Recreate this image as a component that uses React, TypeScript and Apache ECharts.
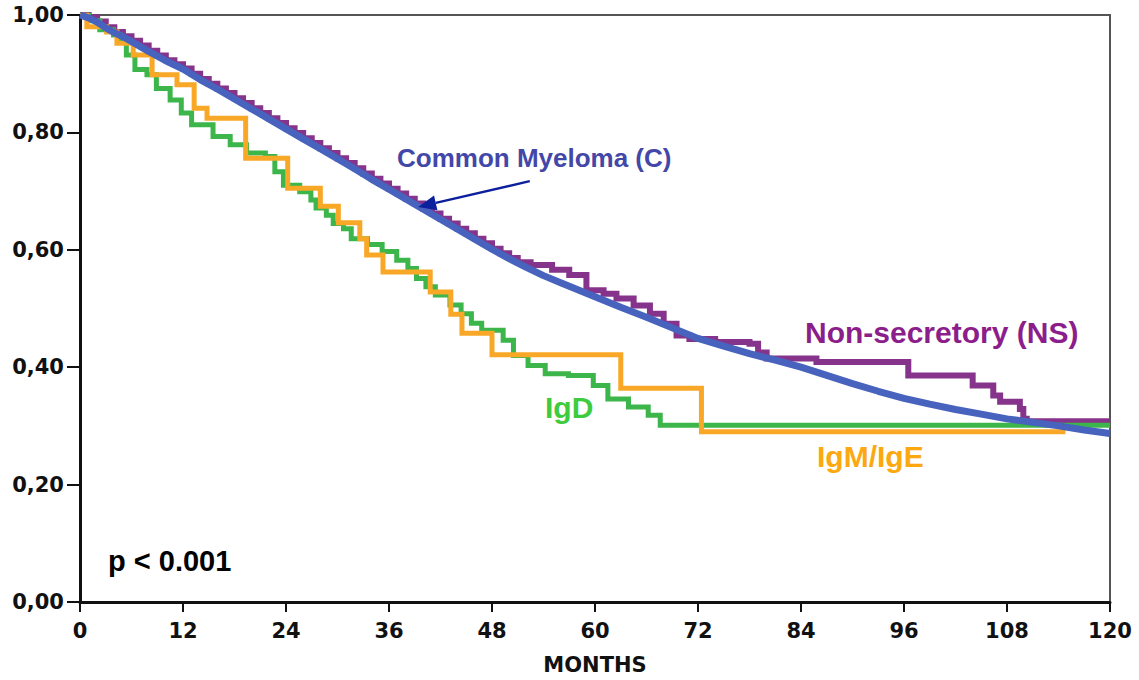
import React, { useEffect, useRef } from "react";
import * as echarts from "echarts";

// Tick labels
const xTicks = [0, 12, 24, 36, 48, 60, 72, 84, 96, 108, 120];
const yTicks = [0, 0.2, 0.4, 0.6, 0.8, 1.0];

// Common Myeloma (C): [month, survival]
const commonMyeloma: [number, number][] = [
  [0, 1.0], [1, 0.995], [2, 0.988], [3, 0.978], [4, 0.97], [5, 0.963], [6, 0.955],
  [8, 0.938], [10, 0.922], [12, 0.908], [14, 0.89], [16, 0.874], [18, 0.857],
  [20, 0.84], [22, 0.823], [24, 0.806], [26, 0.789], [28, 0.772], [30, 0.755],
  [32, 0.738], [34, 0.72], [36, 0.703], [38, 0.686], [40, 0.669], [42, 0.652],
  [44, 0.635], [46, 0.618], [48, 0.601], [50, 0.585], [52, 0.57], [54, 0.556],
  [56, 0.544], [58, 0.532], [60, 0.52], [63, 0.502], [66, 0.485], [69, 0.467],
  [72, 0.449], [75, 0.436], [78, 0.423], [81, 0.412], [84, 0.4], [87, 0.386],
  [90, 0.372], [93, 0.359], [96, 0.347], [99, 0.337], [102, 0.328], [105, 0.32],
  [108, 0.312], [111, 0.306], [114, 0.3], [117, 0.293], [120, 0.287],
];

// Non-secretory (NS): Kaplan-Meier steps [month, survival]
const nonSecretory: [number, number][] = [
  [0, 1.0], [1, 0.996], [2, 0.989], [3, 0.979], [4, 0.971], [5, 0.964], [6, 0.956],
  [7, 0.948], [8, 0.939], [9, 0.931], [10, 0.923], [11, 0.916], [12, 0.909],
  [13, 0.9], [14, 0.891], [15, 0.883], [16, 0.875], [17, 0.867], [18, 0.858],
  [19, 0.85], [20, 0.841], [21, 0.833], [22, 0.824], [23, 0.816], [24, 0.807],
  [25, 0.799], [26, 0.79], [27, 0.782], [28, 0.773], [29, 0.765], [30, 0.756],
  [31, 0.748], [32, 0.739], [33, 0.73], [34, 0.721], [35, 0.713], [36, 0.704],
  [37, 0.696], [38, 0.687], [39, 0.679], [40, 0.67], [41, 0.662], [42, 0.653],
  [43, 0.645], [44, 0.636], [45, 0.628], [46, 0.619], [47, 0.611], [48, 0.602],
  [49, 0.594], [50, 0.586], [51, 0.579], [52.5, 0.574], [55, 0.566], [57, 0.557],
  [59, 0.531], [61, 0.525], [62.5, 0.517], [64.5, 0.505], [66.4, 0.491], [68, 0.474],
  [69.5, 0.454], [71, 0.448], [74, 0.443], [78, 0.44], [79, 0.425], [80, 0.415],
  [85.8, 0.409], [96.5, 0.386], [104, 0.369], [106.4, 0.352], [107.2, 0.341],
  [109.5, 0.329], [109.9, 0.312], [110.3, 0.308], [120, 0.308],
];

// IgD: Kaplan-Meier steps
const igD: [number, number][] = [
  [0, 1.0], [1, 0.99], [2.3, 0.975], [3.9, 0.966], [4.7, 0.955], [5.4, 0.932],
  [6.4, 0.907], [7.8, 0.898], [8.9, 0.875], [10.5, 0.855], [11.8, 0.833],
  [13.0, 0.813], [15.5, 0.793], [17.5, 0.779], [19.4, 0.765], [21.6, 0.759],
  [22.7, 0.733], [23.7, 0.71], [25.6, 0.699], [26.9, 0.685], [27.5, 0.671],
  [28.7, 0.659], [29.5, 0.645], [30.7, 0.636], [31.6, 0.619], [33.5, 0.609],
  [35.2, 0.597], [36.9, 0.582], [38.2, 0.568], [39.2, 0.551], [40.3, 0.537],
  [41.4, 0.523], [43.1, 0.506], [44.4, 0.491], [45.6, 0.475], [46.8, 0.463],
  [49.3, 0.446], [50.5, 0.42], [52.2, 0.403], [54.2, 0.389], [56.9, 0.386],
  [59.8, 0.369], [61.5, 0.346], [63.9, 0.332], [66.2, 0.318], [67.6, 0.301],
  [120, 0.301],
];

// IgM/IgE: Kaplan-Meier steps
const igMigE: [number, number][] = [
  [0, 1.0], [0.8, 0.98], [3.1, 0.971], [4.3, 0.952], [6.2, 0.932], [8.4, 0.898],
  [11.3, 0.881], [13.3, 0.841], [14.8, 0.824], [19.3, 0.756], [24.2, 0.705],
  [28.0, 0.674], [30.1, 0.646], [32.6, 0.619], [33.4, 0.591], [35.3, 0.562],
  [40.8, 0.528], [43.2, 0.49], [44.5, 0.458], [48.0, 0.421], [63.0, 0.364],
  [72.4, 0.29], [114.8, 0.29],
];

const arrowTip: [number, number] = [39.4, 0.673];
const arrowTail: [number, number] = [52.4, 0.717];

export default function App() {
  const ref = useRef<HTMLDivElement>(null);

  useEffect(() => {
    if (!ref.current) return;
    const chart = echarts.init(ref.current, undefined, { renderer: "svg" });
    const axisFont = {
      fontFamily: "DejaVu Sans",
      fontWeight: "bold" as const,
      fontSize: 21,
      color: "#111",
    };
    const labelFont = "Liberation Sans, Arial, sans-serif";

    chart.setOption({
      animation: false,
      backgroundColor: "#ffffff",
      grid: {
        left: 80,
        right: 29,
        top: 15,
        bottom: 78,
        show: true,
        borderColor: "#555",
        borderWidth: 2,
        backgroundColor: "transparent",
      },
      xAxis: {
        type: "value",
        min: xTicks[0],
        max: xTicks[xTicks.length - 1],
        interval: 12,
        name: "MONTHS",
        nameLocation: "middle",
        nameGap: 52,
        nameTextStyle: {
          fontFamily: "DejaVu Sans",
          fontWeight: "bold",
          fontSize: 21,
          color: "#111",
        },
        axisLine: { show: true, lineStyle: { color: "#111", width: 3 } },
        axisTick: { show: true, length: 10, lineStyle: { color: "#111", width: 2 } },
        axisLabel: { ...axisFont, margin: 18 },
        splitLine: { show: false },
      },
      yAxis: {
        type: "value",
        min: yTicks[0],
        max: yTicks[yTicks.length - 1],
        interval: 0.2,
        axisLine: { show: true, lineStyle: { color: "#111", width: 3 } },
        axisTick: { show: true, length: 13, lineStyle: { color: "#111", width: 2 } },
        axisLabel: {
          ...axisFont,
          margin: 16,
          formatter: (v: number) => v.toFixed(2).replace(".", ","),
        },
        splitLine: { show: false },
      },
      series: [
        {
          name: "Non-secretory (NS)",
          type: "line",
          step: "end",
          data: nonSecretory,
          showSymbol: false,
          symbol: "none",
          lineStyle: { color: "#86348b", width: 6, join: "miter" },
          z: 2,
        },
        {
          name: "IgD",
          type: "line",
          step: "end",
          data: igD,
          showSymbol: false,
          symbol: "none",
          lineStyle: { color: "#3cb64a", width: 5, join: "miter" },
          z: 3,
        },
        {
          name: "IgM/IgE",
          type: "line",
          step: "end",
          data: igMigE,
          showSymbol: false,
          symbol: "none",
          lineStyle: { color: "#f8a826", width: 5, join: "miter" },
          z: 4,
        },
        {
          name: "Common Myeloma (C)",
          type: "line",
          data: commonMyeloma,
          showSymbol: false,
          symbol: "none",
          lineStyle: { color: "#4863bd", width: 7 },
          z: 5,
        },
      ],
    });

    const tip = chart.convertToPixel({ gridIndex: 0 }, arrowTip) as number[];
    const tail = chart.convertToPixel({ gridIndex: 0 }, arrowTail) as number[];
    const dx = tip[0] - tail[0];
    const dy = tip[1] - tail[1];
    const len = Math.sqrt(dx * dx + dy * dy);
    const ux = dx / len;
    const uy = dy / len;
    const headLen = 18;
    const headHalf = 7.5;
    const bx = tip[0] - ux * headLen;
    const by = tip[1] - uy * headLen;
    const px = -uy * headHalf;
    const py = ux * headHalf;

    chart.setOption({
      graphic: [
        {
          type: "line",
          shape: { x1: tail[0], y1: tail[1], x2: bx, y2: by },
          style: { stroke: "#0c1f9c", lineWidth: 2.5 },
          z: 100,
        },
        {
          type: "polygon",
          shape: {
            points: [
              [tip[0], tip[1]],
              [bx + px, by + py],
              [bx - px, by - py],
            ],
          },
          style: { fill: "#0c1f9c" },
          z: 100,
        },
        {
          type: "text",
          x: 397,
          y: 158,
          style: {
            text: "Common Myeloma (C)",
            fill: "#4347a8",
            font: `bold 26px ${labelFont}`,
            verticalAlign: "middle",
          },
          z: 100,
        },
        {
          type: "text",
          x: 805,
          y: 332,
          style: {
            text: "Non-secretory (NS)",
            fill: "#8b1e8b",
            font: `bold 30px ${labelFont}`,
            verticalAlign: "middle",
          },
          z: 100,
        },
        {
          type: "text",
          x: 545,
          y: 407,
          style: {
            text: "IgD",
            fill: "#3ecb3e",
            font: `bold 30px ${labelFont}`,
            verticalAlign: "middle",
          },
          z: 100,
        },
        {
          type: "text",
          x: 817,
          y: 456,
          style: {
            text: "IgM/IgE",
            fill: "#fca811",
            font: `bold 30px ${labelFont}`,
            verticalAlign: "middle",
          },
          z: 100,
        },
        {
          type: "text",
          x: 108,
          y: 561,
          style: {
            text: "p < 0.001",
            fill: "#000000",
            font: `bold 29px ${labelFont}`,
            verticalAlign: "middle",
          },
          z: 100,
        },
      ],
    });

    return () => {
      chart.dispose();
    };
  }, []);

  return (
    <div
      ref={ref}
      style={{ position: "fixed", left: 0, top: 0, width: 1139, height: 680, background: "#fff" }}
    />
  );
}
